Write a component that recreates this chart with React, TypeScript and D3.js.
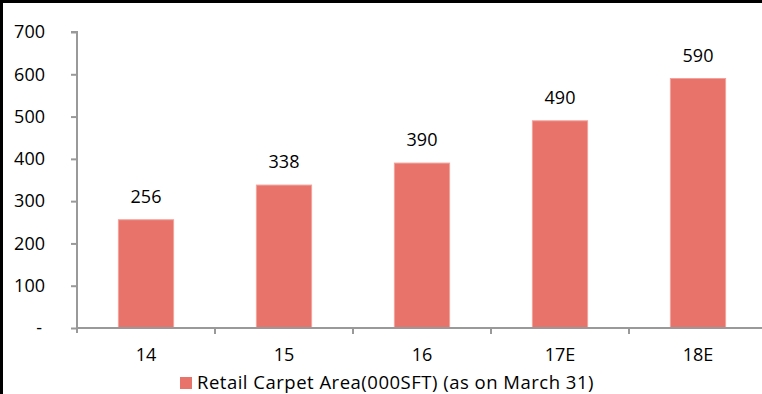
import React, { useEffect, useRef } from 'react';
import * as d3 from 'd3';

const categories = ['14', '15', '16', '17E', '18E'];
const values = [256, 338, 390, 490, 590];
const yTicks = [0, 100, 200, 300, 400, 500, 600, 700];
const seriesName = 'Retail Carpet Area(000SFT) (as on March 31)';

const W = 762, H = 394;
const FONT = '"Open Sans", "Liberation Sans", Arial, sans-serif';

export default function App() {
    const ref = useRef<SVGSVGElement>(null);

    useEffect(() => {
        const svg = d3.select(ref.current);
        svg.selectAll('*').remove();

        // plot area (runs off the right edge like the original)
        const left = 77, top = 32, bottom = 328, right = 767;

        const x = d3.scaleBand()
            .domain(categories)
            .range([left, right])
            .paddingInner(0.6)
            .paddingOuter(0.3);

        const y = d3.scaleLinear()
            .domain([0, 700])
            .range([bottom, top]);

        // frame
        svg.append('rect').attr('x', 0).attr('y', 0).attr('width', W).attr('height', H).attr('fill', '#fff');
        svg.append('rect').attr('x', 0).attr('y', 0).attr('width', W).attr('height', 3).attr('fill', '#000');
        svg.append('rect').attr('x', 0).attr('y', 0).attr('width', 3).attr('height', H).attr('fill', '#000');

        // bars
        svg.append('g')
            .selectAll('rect')
            .data(values)
            .enter()
            .append('rect')
            .attr('x', (d, i) => x(categories[i])!)
            .attr('y', d => y(d))
            .attr('width', x.bandwidth())
            .attr('height', d => bottom - y(d))
            .attr('fill', '#E8736A')
            .attr('stroke', '#F2A29C')
            .attr('stroke-width', 1);

        // value labels
        svg.append('g')
            .selectAll('text')
            .data(values)
            .enter()
            .append('text')
            .attr('x', (d, i) => x(categories[i])! + x.bandwidth() / 2)
            .attr('y', d => y(d) - 17)
            .attr('text-anchor', 'middle')
            .style('font-family', FONT)
            .style('font-size', '18px')
            .style('fill', '#000')
            .text(d => String(d));

        // y axis
        const yAxis = d3.axisLeft(y)
            .tickValues(yTicks)
            .tickSize(6)
            .tickPadding(26)
            .tickFormat(d => (d === 0 ? '-' : String(d)));

        const gy = svg.append('g')
            .attr('transform', 'translate(' + left + ',0)')
            .call(yAxis);
        gy.select('.domain').attr('stroke', '#999').attr('stroke-width', 2).attr('d', 'M-6,' + top + 'H0V' + (bottom + 5));
        gy.selectAll('.tick line').attr('stroke', '#999').attr('stroke-width', 2);
        gy.selectAll('.tick text')
            .style('font-family', FONT)
            .style('font-size', '18px')
            .style('fill', '#000');
        gy.selectAll('.tick').filter((d: any) => d === 0).select('text').attr('x', -35);

        // x axis line + boundary ticks
        svg.append('line')
            .attr('x1', left).attr('x2', W)
            .attr('y1', bottom).attr('y2', bottom)
            .attr('stroke', '#999').attr('stroke-width', 2);

        const step = x.step();
        for (let i = 1; i < categories.length; i++) {
            svg.append('line')
                .attr('x1', left + step * i).attr('x2', left + step * i)
                .attr('y1', bottom).attr('y2', bottom + 6)
                .attr('stroke', '#999').attr('stroke-width', 2);
        }

        svg.append('g')
            .selectAll('text')
            .data(categories)
            .enter()
            .append('text')
            .attr('x', d => x(d)! + x.bandwidth() / 2)
            .attr('y', bottom + 33)
            .attr('text-anchor', 'middle')
            .style('font-family', FONT)
            .style('font-size', '18px')
            .text(d => d);

        // legend
        const lg = svg.append('g').attr('transform', 'translate(180,377)');
        lg.append('rect').attr('width', 12).attr('height', 12).attr('fill', '#E8736A');
        lg.append('text')
            .attr('x', 17).attr('y', 11.5)
            .style('font-family', FONT)
            .style('font-size', '18.5px')
            .style('letter-spacing', '0.5px')
            .text(seriesName);
    }, []);

    return (
        <svg ref={ref} width={W} height={H}
            style={{ position: 'absolute', left: 0, top: 0, display: 'block' }}></svg>
    );
}
